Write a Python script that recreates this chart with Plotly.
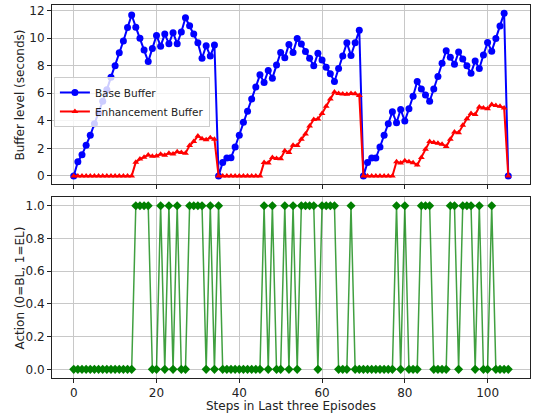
import plotly.graph_objects as go

steps = list(range(106))

base_buffer = [
    0, 1.03, 1.53, 2.23, 2.95, 3.79, 4.58, 5.42, 6.25, 7.17,
    8.0, 8.94, 9.8, 10.77, 11.68, 10.8, 10.0, 9.14, 8.3, 9.26,
    10.2, 9.42, 10.3, 9.6, 10.4, 9.6, 10.45, 11.48, 10.9, 10.3,
    9.66, 8.54, 9.45, 8.7, 9.5, 0, 0.98, 1.3, 1.32, 2.1,
    2.95, 3.9, 4.7, 5.59, 6.45, 7.34, 6.78, 7.65, 7.1, 8.06,
    8.97, 8.58, 9.55, 8.97, 9.98, 9.57, 9.03, 8.54, 7.99, 8.9,
    8.42, 7.89, 7.41, 6.86, 7.8, 8.7, 9.66, 8.75, 9.66, 10.58,
    0, 0.98, 1.3, 1.3, 2.1, 2.95, 3.79, 4.65, 3.86, 4.82,
    3.98, 4.87, 5.78, 6.86, 6.31, 5.88, 5.42, 6.31, 7.22, 8.18,
    9.09, 8.61, 8.1, 9.0, 8.49, 8.0, 7.46, 8.35, 7.8, 8.78,
    9.69, 9.06, 9.98, 10.88, 11.82, 0,
]

enh_buffer = [
    0, 0, 0, 0, 0, 0, 0, 0, 0, 0,
    0, 0, 0, 0, 0, 1.0, 1.22, 1.36, 1.51, 1.42,
    1.45, 1.58, 1.5, 1.65, 1.6, 1.75, 1.7, 1.65, 2.2, 2.5,
    2.9, 2.7, 2.62, 2.78, 2.66, 0, 0, 0, 0, 0,
    0, 0, 0, 0, 0, 0, 0.98, 0.94, 1.34, 1.27,
    1.25, 1.82, 1.7, 2.23, 2.2, 2.66, 3.05, 3.62, 4.1, 4.14,
    4.53, 5.06, 5.59, 6.1, 5.98, 5.95, 5.93, 5.98, 5.96, 5.83,
    0, 0, 0, 0, 0, 0, 0, 0, 1.03, 0.93,
    1.1, 1.03, 0.96, 0.79, 1.34, 1.94, 2.49, 2.42, 2.38, 2.3,
    2.13, 2.66, 3.19, 3.14, 3.67, 4.15, 4.53, 4.46, 5.01, 4.94,
    4.87, 5.18, 5.11, 5.06, 4.94, 0,
]

actions = [
    0, 0, 0, 0, 0, 0, 0, 0, 0, 0,
    0, 0, 0, 0, 0, 1, 1, 1, 1, 0,
    0, 1, 0, 1, 0, 1, 0, 0, 1, 1,
    1, 1, 0, 1, 0, 1, 0, 0, 0, 0,
    0, 0, 0, 0, 0, 0, 1, 0, 1, 0,
    0, 1, 0, 1, 0, 1, 1, 1, 1, 0,
    1, 1, 1, 1, 0, 0, 0, 1, 0, 0,
    0, 0, 0, 0, 0, 0, 0, 0, 1, 0,
    1, 0, 0, 0, 1, 1, 1, 0, 0, 0,
    0, 1, 1, 0, 1, 1, 1, 0, 1, 0,
    0, 1, 0, 0, 0, 0,
]

x_ticks = [0, 20, 40, 60, 80, 100]
y_ticks_top = [0, 2, 4, 6, 8, 10, 12]
y_ticks_bottom = [0.0, 0.2, 0.4, 0.6, 0.8, 1.0]

FONT = "DejaVu Sans"
fig = go.Figure()

fig.add_trace(go.Scatter(
    x=steps, y=base_buffer, mode="lines+markers", name="Base Buffer",
    line=dict(color="#0000ff", width=2),
    marker=dict(symbol="circle", size=7, color="#0000ff"),
    xaxis="x", yaxis="y",
))
fig.add_trace(go.Scatter(
    x=steps, y=enh_buffer, mode="lines+markers", name="Enhancement Buffer",
    line=dict(color="#ff0000", width=2),
    marker=dict(symbol="triangle-up", size=6, color="#ff0000"),
    xaxis="x", yaxis="y",
))
fig.add_trace(go.Scatter(
    x=steps, y=actions, mode="lines+markers", name="Action",
    line=dict(color="rgba(0,128,0,0.75)", width=1.5),
    marker=dict(symbol="diamond", size=7, color="#008000"),
    xaxis="x2", yaxis="y2", showlegend=False,
))

axis_common = dict(
    showline=True, linecolor="#222222", linewidth=1, mirror=True,
    showgrid=True, gridcolor="#c8c8c8", gridwidth=1,
    ticks="outside", ticklen=4, tickcolor="#222222",
    zeroline=False, automargin=False,
    tickfont=dict(family=FONT, size=12, color="#222222"),
)

fig.update_layout(
    width=547, height=413,
    margin=dict(l=52, r=17, t=5, b=35),
    paper_bgcolor="white", plot_bgcolor="white",
    font=dict(family=FONT, size=12, color="#222222"),
    xaxis=dict(domain=[0, 1], anchor="y", range=[-5.25, 110.25],
               tickvals=x_ticks, showticklabels=False, **axis_common),
    yaxis=dict(domain=[0.52, 1.0], anchor="x", range=[-0.59, 12.41],
               tickvals=y_ticks_top, **axis_common),
    xaxis2=dict(domain=[0, 1], anchor="y2", range=[-5.25, 110.25],
                tickvals=x_ticks, **axis_common),
    yaxis2=dict(domain=[0, 0.485], anchor="x2", range=[-0.053, 1.053],
                tickvals=y_ticks_bottom, tickformat=".1f", **axis_common),
    legend=dict(x=0.004, y=0.807, xanchor="left", yanchor="top",
                bgcolor="rgba(255,255,255,0.8)", bordercolor="#cccccc", borderwidth=1,
                font=dict(family=FONT, size=10.5), tracegroupgap=0, itemwidth=30),
    annotations=[
        dict(text="Buffer level (seconds)", xref="paper", yref="paper",
             x=-0.067, y=0.76, xanchor="center", yanchor="middle",
             textangle=-90, showarrow=False, font=dict(family=FONT, size=12)),
        dict(text="Action (0=BL, 1=EL)", xref="paper", yref="paper",
             x=-0.067, y=0.2425, xanchor="center", yanchor="middle",
             textangle=-90, showarrow=False, font=dict(family=FONT, size=12)),
        dict(text="Steps in Last three Episodes", xref="paper", yref="paper",
             x=0.5, y=-0.074, xanchor="center", yanchor="middle",
             showarrow=False, font=dict(family=FONT, size=12)),
    ],
)

fig.write_html(
    "out.html",
    config={"displayModeBar": False},
    post_script="document.body.style.margin='0';document.body.style.overflow='hidden';",
)
